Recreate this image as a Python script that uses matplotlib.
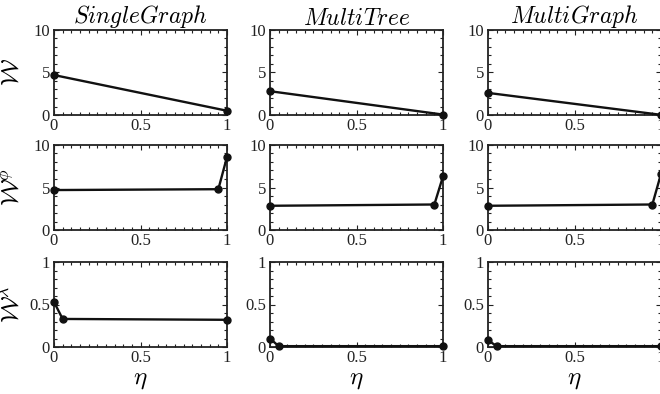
import matplotlib
matplotlib.use("Agg")
import matplotlib.pyplot as plt
from matplotlib.ticker import MultipleLocator

plt.rcParams['mathtext.fontset'] = 'cm'
plt.rcParams['font.family'] = ['Liberation Serif', 'DejaVu Serif']

# data
titles = ['SingleGraph', 'MultiTree', 'MultiGraph']
ylabels = [r'$\mathcal{W}$', r'$\mathcal{W}^{\phi}$', r'$\mathcal{W}^{\lambda}$']

eta_w = [0, 1]
eta_phi = [0, 0.95, 1]
eta_lam = [0, 0.05, 1]

w_single = [4.7, 0.5]
w_tree = [2.8, 0.05]
w_graph = [2.6, 0.02]

phi_single = [4.7, 4.8, 8.6]
phi_tree = [2.85, 3.0, 6.3]
phi_graph = [2.85, 3.0, 6.6]

lam_single = [0.53, 0.33, 0.32]
lam_tree = [0.1, 0.01, 0.01]
lam_graph = [0.08, 0.01, 0.01]

rows = [
    (eta_w, [w_single, w_tree, w_graph], 10),
    (eta_phi, [phi_single, phi_tree, phi_graph], 10),
    (eta_lam, [lam_single, lam_tree, lam_graph], 1),
]

W, H = 660.0, 394.0
lefts = [54, 270, 488]
aw = 173
tops = [30, 145, 262]
ah = 85

fig = plt.figure(figsize=(6.6, 3.94), dpi=100)

for r, (xs, series, ymax) in enumerate(rows):
    for c in range(3):
        ax = fig.add_axes([lefts[c] / W, 1 - (tops[r] + ah) / H, aw / W, ah / H])
        ax.plot(xs, series[c], color='#111111', lw=1.7, marker='o', ms=5,
                clip_on=False, zorder=5)
        ax.set_xlim(0, 1)
        ax.set_ylim(0, ymax)
        ax.set_xticks([0, 0.5, 1])
        ax.set_xticklabels(['0', '0.5', '1'])
        ax.xaxis.set_minor_locator(MultipleLocator(0.05))
        if ymax == 10:
            ax.set_yticks([0, 5, 10])
            ax.set_yticklabels(['0', '5', '10'])
            ax.yaxis.set_minor_locator(MultipleLocator(1))
        else:
            ax.set_yticks([0, 0.5, 1])
            ax.set_yticklabels(['0', '0.5', '1'])
            ax.yaxis.set_minor_locator(MultipleLocator(0.1))
        ax.tick_params(which='both', direction='in', top=True, right=True,
                       labelsize=12, width=0.8, colors='#222222')
        ax.tick_params(axis='x', which='major', pad=2)
        ax.tick_params(axis='y', which='major', pad=3)
        ax.tick_params(which='major', length=3.5)
        ax.tick_params(which='minor', length=2)
        for sp in ax.spines.values():
            sp.set_linewidth(1.3)
            sp.set_color('#222222')
        if r == 0:
            ax.set_title('$' + titles[c] + '$', fontsize=17, pad=3)
        if c == 0:
            ax.set_ylabel(ylabels[r], fontsize=18)
            ax.yaxis.set_label_coords(-0.17, 0.5)
        if r == 2:
            ax.set_xlabel(r'$\eta$', fontsize=18, labelpad=2)

fig.savefig('out.png', dpi=100)
